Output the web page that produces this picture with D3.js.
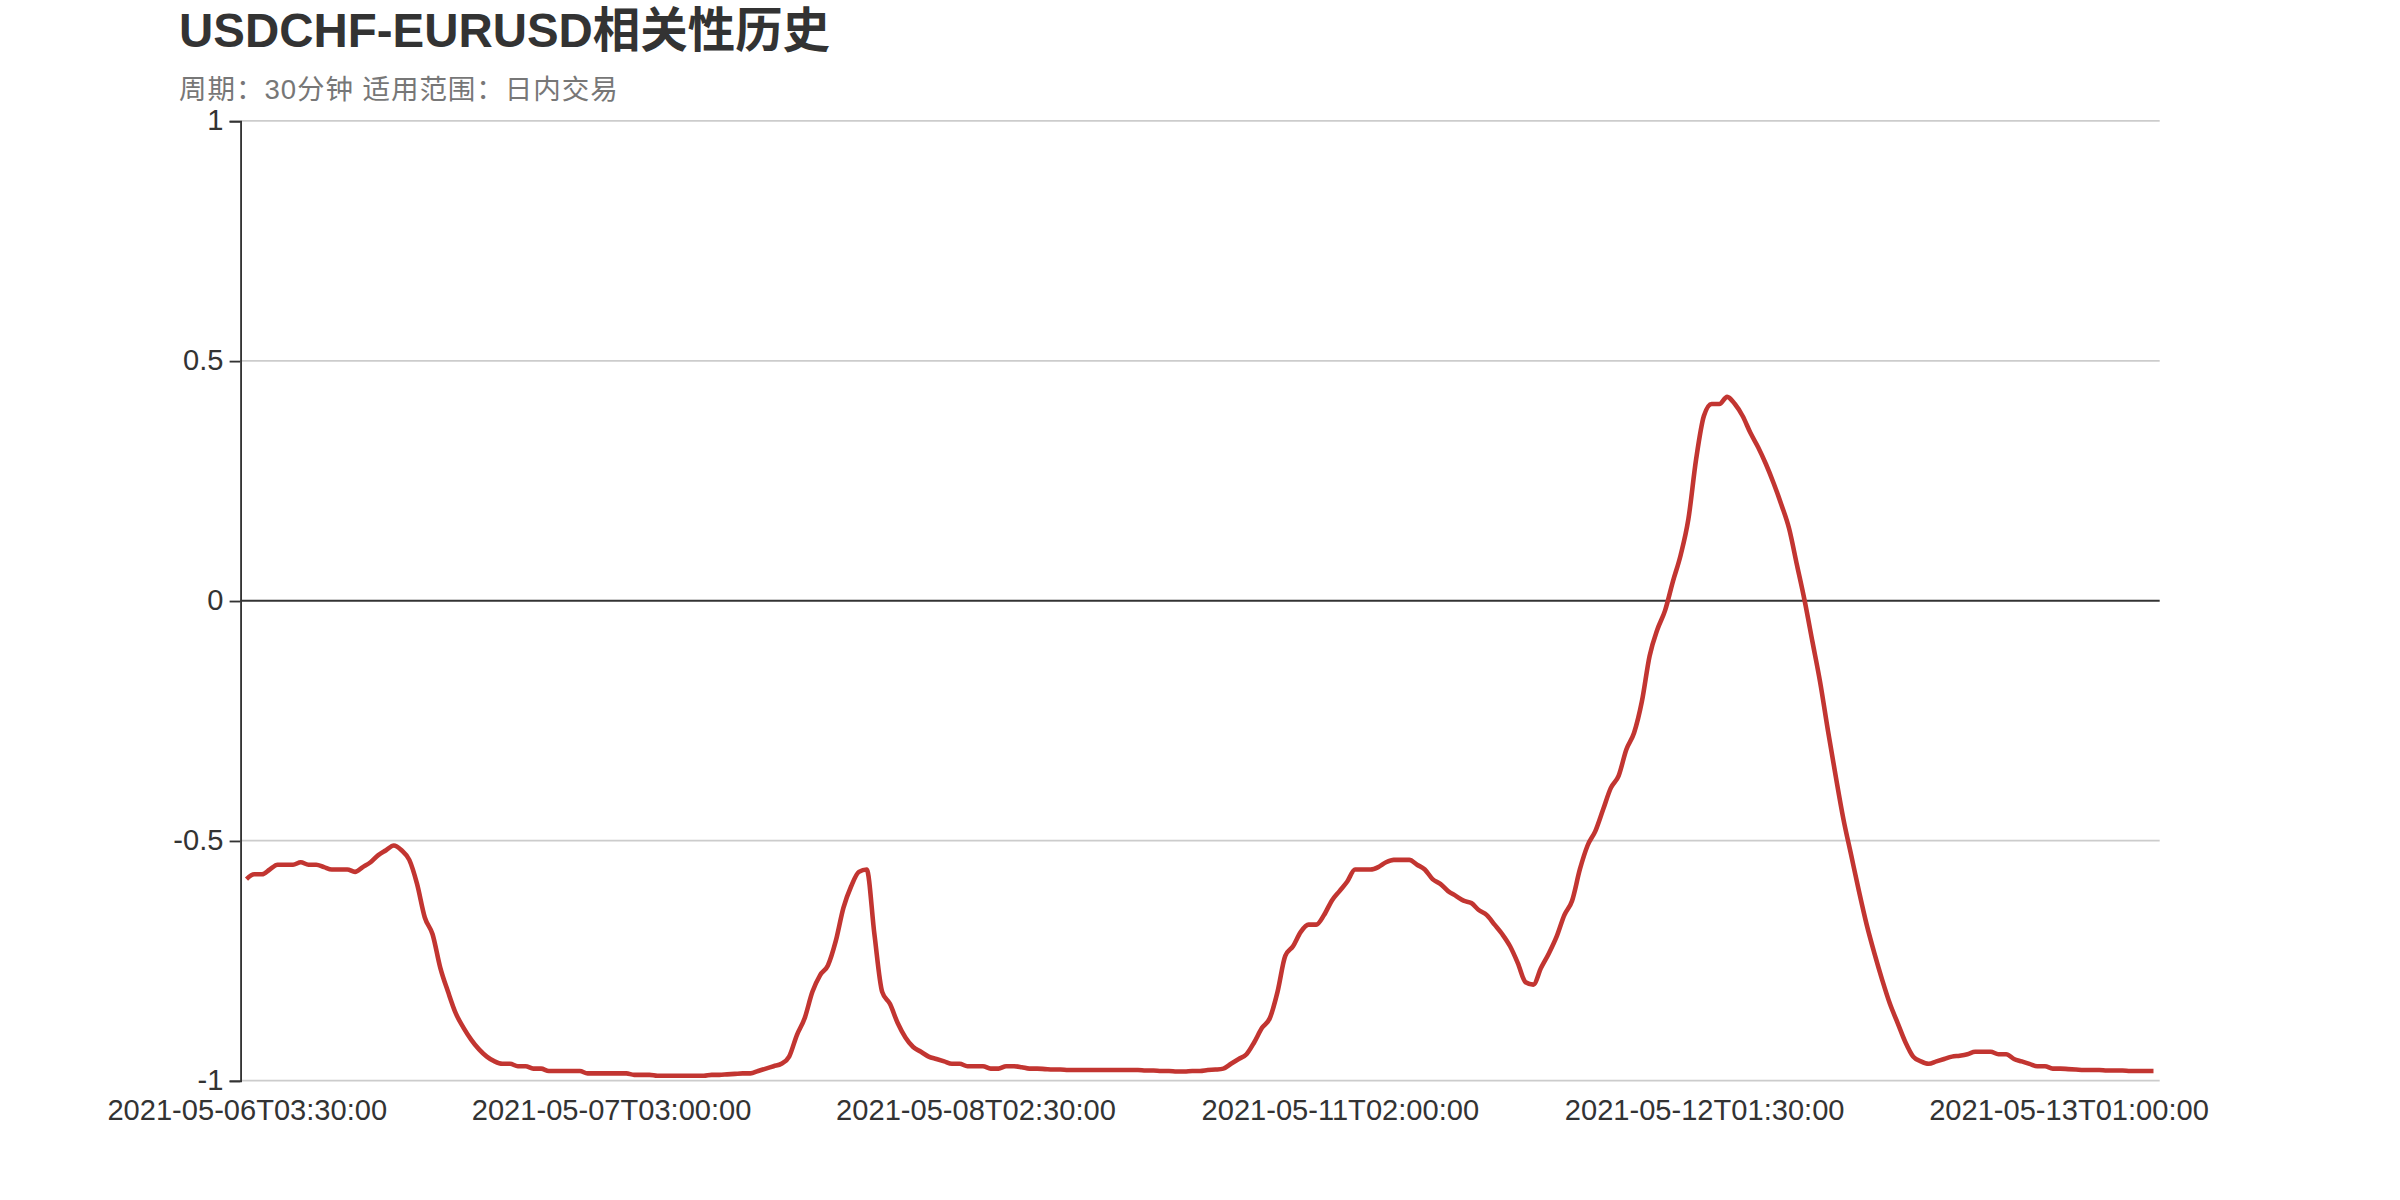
<!DOCTYPE html>
<html><head><meta charset="utf-8">
<script src="https://cdn.jsdelivr.net/npm/d3@7"></script>
<style>body{margin:0;background:#fff}svg{display:block}</style>
</head><body>
<script>
const title = "USDCHF-EURUSD相关性历史";
const subtitle = "周期：30分钟 适用范围：日内交易";
const yTicks = [-1, -0.5, 0, 0.5, 1];
const xTickLabels = ["2021-05-06T03:30:00","2021-05-07T03:00:00","2021-05-08T02:30:00","2021-05-11T02:00:00","2021-05-12T01:30:00","2021-05-13T01:00:00"];
const correlation = [
-0.58,-0.57,-0.57,-0.56,-0.55,-0.55,-0.55,-0.545,-0.55,-0.55,
-0.555,-0.56,-0.56,-0.56,-0.565,-0.555,-0.545,-0.53,-0.52,-0.51,
-0.52,-0.54,-0.59,-0.66,-0.695,-0.765,-0.815,-0.86,-0.89,-0.915,
-0.935,-0.95,-0.96,-0.965,-0.965,-0.97,-0.97,-0.975,-0.975,-0.98,
-0.98,-0.98,-0.98,-0.98,-0.985,-0.985,-0.985,-0.985,-0.985,-0.985,
-0.988,-0.988,-0.988,-0.99,-0.99,-0.99,-0.99,-0.99,-0.99,-0.99,
-0.988,-0.988,-0.987,-0.986,-0.985,-0.985,-0.98,-0.975,-0.97,-0.965,
-0.95,-0.905,-0.87,-0.815,-0.78,-0.76,-0.71,-0.64,-0.595,-0.565,
-0.56,-0.695,-0.815,-0.84,-0.88,-0.91,-0.93,-0.94,-0.95,-0.955,
-0.96,-0.965,-0.965,-0.97,-0.97,-0.97,-0.975,-0.975,-0.97,-0.97,
-0.972,-0.975,-0.975,-0.976,-0.977,-0.977,-0.978,-0.978,-0.978,-0.978,
-0.978,-0.978,-0.978,-0.978,-0.978,-0.978,-0.979,-0.979,-0.98,-0.98,
-0.981,-0.981,-0.98,-0.98,-0.978,-0.977,-0.975,-0.965,-0.955,-0.945,
-0.92,-0.89,-0.87,-0.815,-0.74,-0.72,-0.69,-0.675,-0.675,-0.655,
-0.625,-0.605,-0.585,-0.56,-0.56,-0.56,-0.555,-0.545,-0.54,-0.54,
-0.54,-0.55,-0.56,-0.58,-0.59,-0.605,-0.615,-0.625,-0.63,-0.645,
-0.655,-0.675,-0.695,-0.72,-0.755,-0.795,-0.8,-0.765,-0.735,-0.70,
-0.655,-0.625,-0.56,-0.51,-0.48,-0.435,-0.39,-0.365,-0.31,-0.275,
-0.21,-0.115,-0.06,-0.02,0.04,0.095,0.17,0.295,0.385,0.41,
0.41,0.425,0.41,0.385,0.35,0.32,0.285,0.245,0.20,0.15,
0.075,0.0,-0.085,-0.17,-0.27,-0.365,-0.455,-0.53,-0.605,-0.675,
-0.735,-0.79,-0.84,-0.88,-0.92,-0.95,-0.96,-0.965,-0.96,-0.955,
-0.95,-0.948,-0.945,-0.94,-0.94,-0.94,-0.945,-0.945,-0.955,-0.96,
-0.965,-0.97,-0.97,-0.975,-0.975,-0.976,-0.977,-0.978,-0.978,-0.978,
-0.979,-0.979,-0.979,-0.98,-0.98,-0.98,-0.98
];
// 30-minute bar timestamps, with the weekend gap
const categories = [];
(function(){
  let t = Date.UTC(2021,4,6,3,30);
  for (let i = 0; i < correlation.length; i++) {
    if (i === 101) t = Date.UTC(2021,4,10,6,0);
    categories.push(new Date(t).toISOString().slice(0,19));
    t += 30*60*1000;
  }
})();

const W = 1568, H = 784;
const svg = d3.select("body").append("svg")
  .attr("width", 2400).attr("height", 1200)
  .attr("viewBox", `0 0 ${W} ${H}`);
const L = 157, R = 1411, T = 79, B = 706;
const x = d3.scalePoint().domain(categories).range([L, R]).padding(0.8);
const y = d3.scaleLinear().domain([-1, 1]).range([B, T]);
const font = "'Liberation Sans', Arial, 'Noto Sans CJK SC', sans-serif";

svg.append("text").attr("x", 117).attr("y", 31).text(title)
  .attr("font-family", font).attr("font-weight", "bold").attr("font-size", 31).attr("fill", "#333");
svg.append("text").attr("x", 117).attr("y", 65).text(subtitle)
  .attr("font-family", font).attr("font-size", 18).attr("letter-spacing", 0.6).attr("fill", "#777");

// grid
svg.append("g").selectAll("line").data(yTicks).join("line")
  .attr("x1", L).attr("x2", R).attr("y1", d => y(d)).attr("y2", d => y(d))
  .attr("stroke", d => d === 0 ? "#333" : "#ccc").attr("stroke-width", 1.2);

// y axis
const ya = svg.append("g").attr("transform", `translate(${L},0)`)
  .call(d3.axisLeft(y).tickValues(yTicks).tickSize(7).tickFormat(d => String(d)));
ya.select(".domain").attr("stroke", "#333").attr("stroke-width", 1.2);
ya.selectAll(".tick line").attr("stroke", "#333").attr("stroke-width", 1.2);
ya.selectAll("text").attr("font-family", font).attr("font-size", 19).attr("fill", "#333").attr("dx", -1).attr("dy", "0.28em");

// x axis labels
const xLab = categories.filter(c => xTickLabels.includes(c));
const xa = svg.append("g").attr("transform", `translate(0,${B})`)
  .call(d3.axisBottom(x).tickValues(xLab).tickSize(0).tickPadding(12));
xa.select(".domain").remove();
xa.selectAll("text").attr("font-family", font).attr("font-size", 19).attr("fill", "#333");

// line
const line = d3.line().x((d, i) => x(categories[i])).y(d => y(d)).curve(d3.curveMonotoneX);
svg.append("path").datum(correlation).attr("d", line)
  .attr("fill", "none").attr("stroke", "#c23531").attr("stroke-width", 3);
</script>
</body></html>
